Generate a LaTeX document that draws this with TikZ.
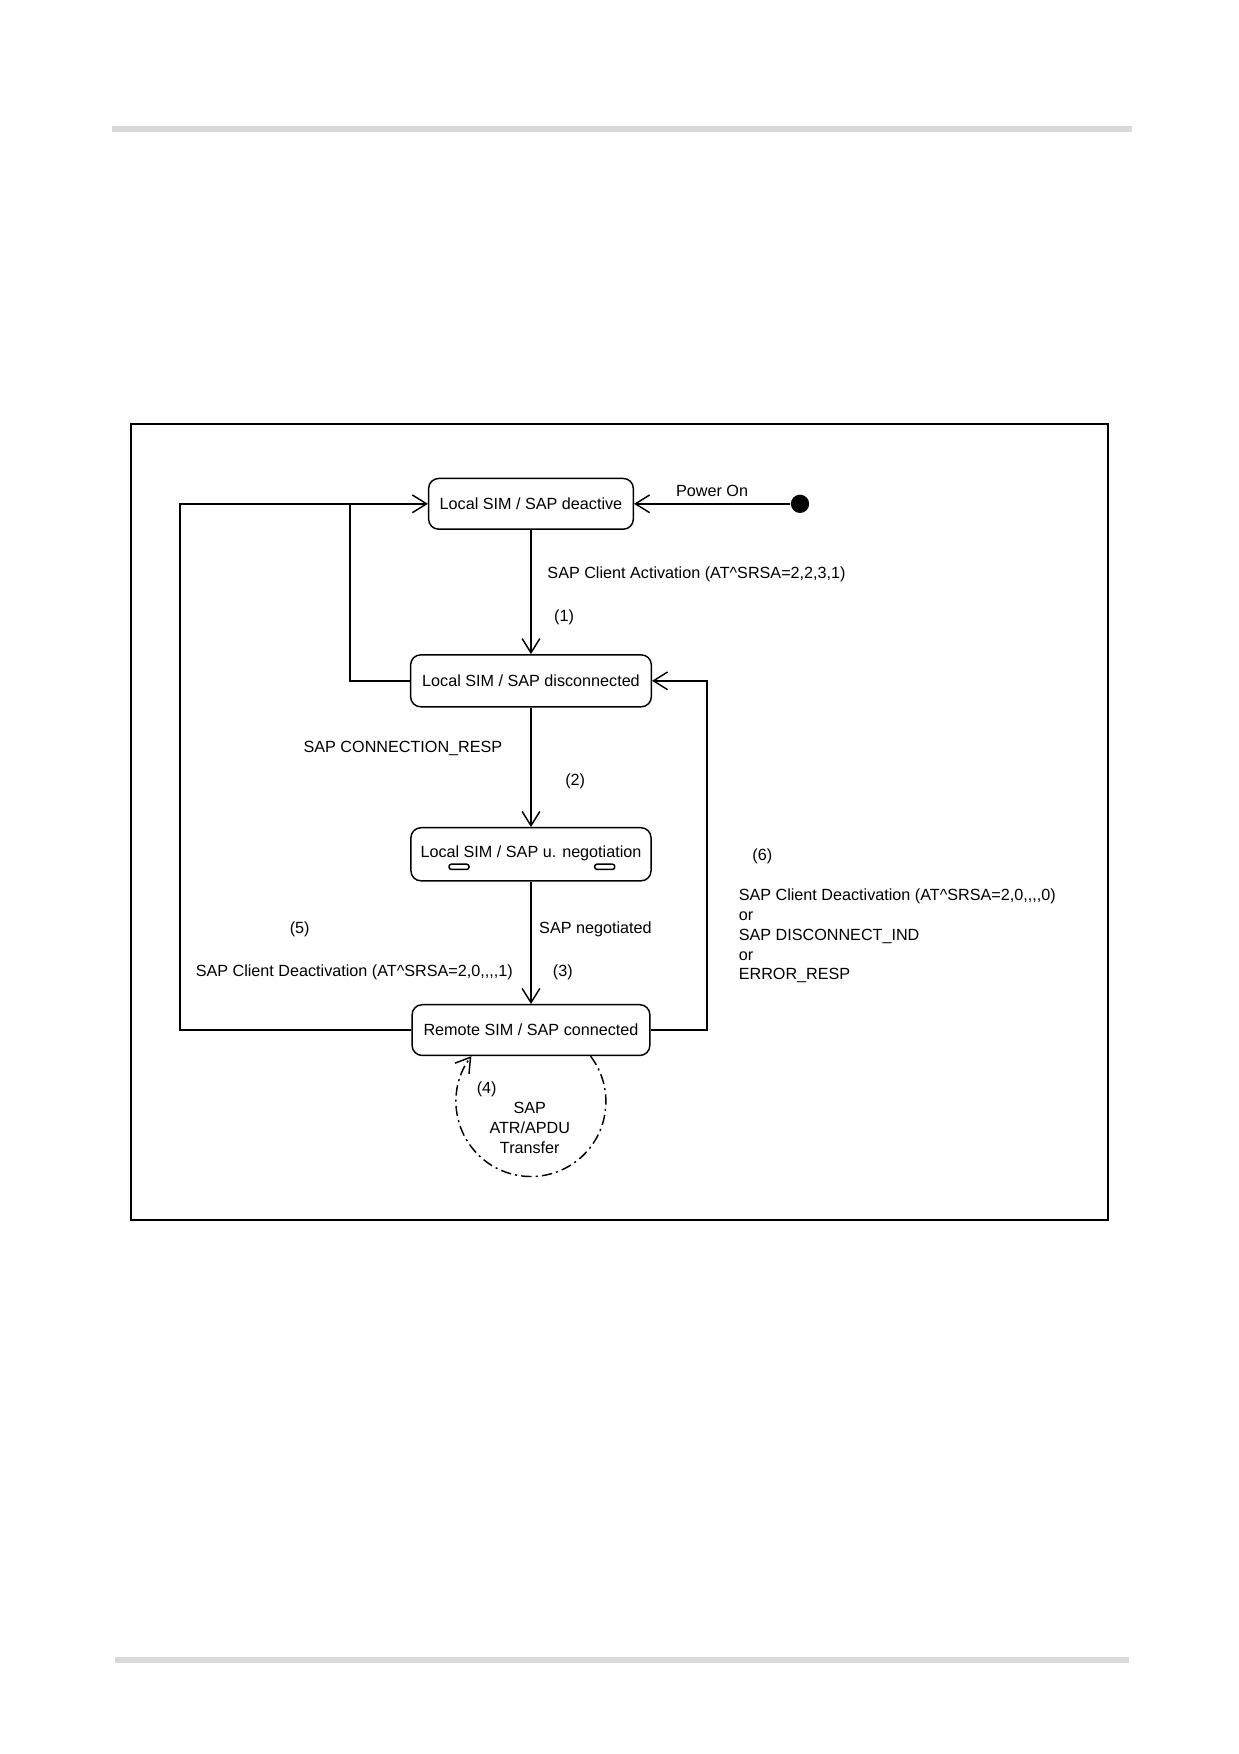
\documentclass[tikz,border=0pt]{standalone}
\usepackage{fontspec}
\setmainfont{Liberation Sans}
\usetikzlibrary{arrows.meta}

\begin{document}
\begin{tikzpicture}[
    font=\fontsize{7.8}{9.6}\selectfont,
    every path/.style={line width=0.7pt},
    state/.style={draw, rounded corners=1.7mm, minimum height=0.86cm, inner sep=2pt},
    trans/.style={-{Straight Barb[length=2.4mm, width=3mm]}},
    tick/.style={draw, rounded corners=0.4mm, minimum width=0.34cm, minimum height=0.09cm, inner sep=0pt},
    selfloop/.style={dash pattern=on 5pt off 2pt on 1pt off 2pt}
  ]
    \useasboundingbox (0,0) rectangle (21.0,29.73);
    % page rules and frame
    \fill[black!15] (1.90,27.50) rectangle (19.19,27.60);
    \fill[black!15] (1.95,1.54) rectangle (19.14,1.64);
    \draw (2.22,9.05) rectangle (18.78,22.54);

    \node[state, minimum width=3.47cm] (deact) at (9.0,21.19) {Local SIM / SAP deactive};
    \node[state, minimum width=4.08cm, minimum height=0.88cm] (disc) at (9.0,18.19) {Local SIM / SAP disconnected};
    \node[state, minimum width=4.07cm, minimum height=0.90cm, text depth=3pt] (neg) at (9.0,15.25) {Local SIM / SAP u. negotiation};
    \node[state, minimum width=4.03cm] (remote) at (9.0,12.27) {Remote SIM / SAP connected};
    \node[tick] (t1) at ([xshift=-1.22cm, yshift=0.25cm]neg.south) {};
    \node[tick] (t2) at ([xshift=1.25cm, yshift=0.25cm]neg.south) {};
    \node[circle, fill, inner sep=0pt, minimum size=0.31cm] (on) at (13.56,21.19) {};

    \coordinate (c5) at (3.05,21.19);
    \coordinate (c1) at (5.93,21.19);
    \coordinate (c6) at (11.98,18.19);

    \draw[trans] (on) -- (deact) node[midway, above] {Power On};
    \draw[trans] (deact) -- (disc);
    \draw[trans] (disc) -- (neg);
    \draw[trans] (neg) -- (remote);
    \draw[trans] (remote.west) -| (c5) -- (deact.west);
    \draw (disc.west) -| (c1);
    \draw[trans] (remote.east) -| (c6) -- (disc.east);
    \draw[selfloop, trans] ([xshift=1.01cm]remote.south) arc[start angle=37.3, end angle=-217.3, radius=1.27cm];

    \node[anchor=base west] (act) at (9.15,19.93) {SAP Client Activation (AT\^{}SRSA=2,2,3,1)};
    \node[anchor=base] (n1) at (9.56,19.19) {(1)};
    \node[anchor=base] (resp) at (6.83,16.97) {SAP CONNECTION\_RESP};
    \node[anchor=base] (n2) at (9.75,16.41) {(2)};
    \node[anchor=base west] (negd) at (9.01,13.90) {SAP negotiated};
    \node[anchor=base] (n3) at (9.54,13.17) {(3)};
    \node[anchor=base] (n5) at (5.08,13.90) {(5)};
    \node[anchor=base east] (deact5) at (8.82,13.17) {SAP Client Deactivation (AT\^{}SRSA=2,0,\kern0pt,\kern0pt,\kern0pt,1)};
    \node[anchor=base] (n6) at (12.92,15.14) {(6)};
    \node[anchor=north west, inner sep=0pt, align=left] (deact6) at (12.51,14.68)
      {SAP Client Deactivation (AT\^{}SRSA=2,0,\kern0pt,\kern0pt,\kern0pt,0)\\or\\SAP DISCONNECT\_IND\\or\\ERROR\_RESP};
    \node[anchor=base] (n4) at (8.25,11.19) {(4)};
    \node[align=center, inner sep=0pt] (apdu) at (8.98,10.61) {SAP\\ATR/APDU\\Transfer};
  \end{tikzpicture}
\end{document}
